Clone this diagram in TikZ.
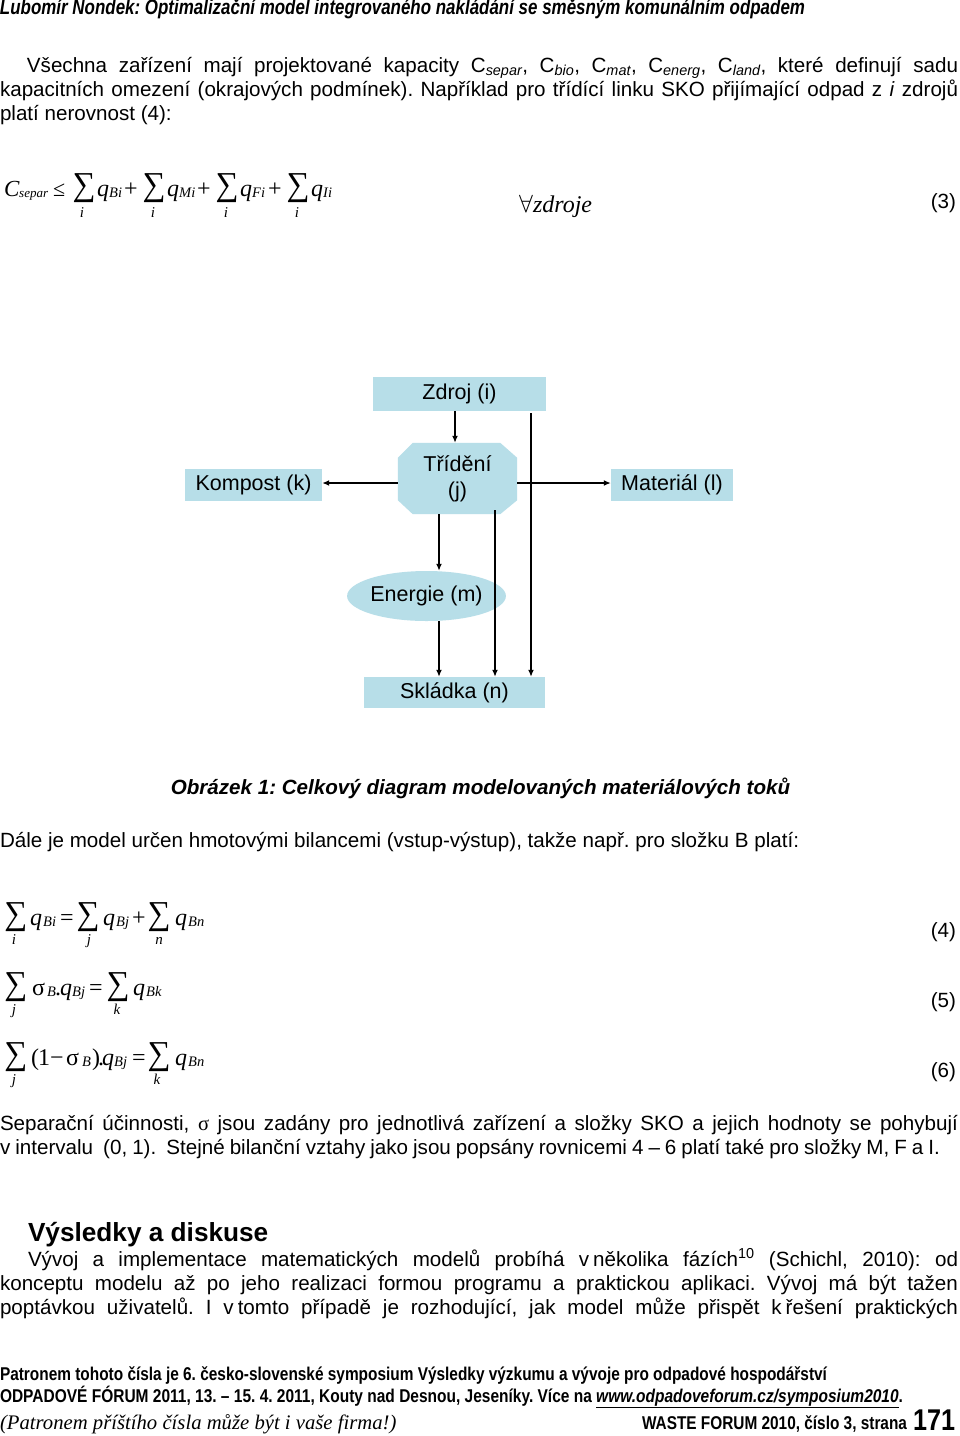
\documentclass[tikz,border=0pt]{standalone}
\usepackage{fontspec}
\usepackage{graphicx}
\setmainfont{Liberation Sans}
\newfontfamily\tnr{Liberation Serif}
\usetikzlibrary{shapes.geometric,arrows.meta,backgrounds}
\definecolor{boxfill}{RGB}{183,222,232}
\newcommand\fs[1]{\fontsize{#1pt}{#1pt}\selectfont}
\newcommand\capsub[1]{\textsubscript{\itshape #1}}
\newcommand\sumg{\resizebox*{23pt}{29pt}{\tnr ∑}}
\newcommand\fitw[2]{\resizebox{#1}{\height}{#2}}
\frenchspacing
\begin{document}
\begin{tikzpicture}[x=1pt,y=-1pt,
  txt/.style={anchor=base west, inner sep=0pt, outer sep=0pt, font=\fs{20.6}},
  lbl/.style={anchor=base east, inner sep=0pt, outer sep=0pt, font=\fs{20.6}},
  eqv/.style={anchor=base west, inner sep=0pt, font=\tnr\itshape\fs{24}},
  equ/.style={anchor=base west, inner sep=0pt, font=\tnr\fs{24}},
  esub/.style={anchor=base west, inner sep=0pt, font=\tnr\itshape\fs{14.5}},
  elow/.style={anchor=base, inner sep=0pt, font=\tnr\itshape\fs{15}},
  sumst/.style={inner sep=0pt, anchor=center},
  box/.style={fill=boxfill, inner sep=0pt, font=\fs{21.5}, text=black},
  arr/.style={-{Latex[length=7pt,width=6pt]}, line width=1.5pt}]
\begin{scope}[on background layer]
\fill[white] (0,0) rectangle (960,1436);
\end{scope}
\useasboundingbox (0,0) rectangle (960,1436);

% header
\node[txt] (hdr) at (0,14) {\fitw{805pt}{\bfseries\itshape\fs{21}Lubomír Nondek: Optimalizační model integrovaného nakládání se směsným komunálním odpadem}};

% paragraph 1
\node[txt] (p1a) at (27,72) {\makebox[931pt][s]{Všechna zařízení mají projektované kapacity C\capsub{separ}, C\capsub{bio}, C\capsub{mat}, C\capsub{energ}, C\capsub{land}, které definují sadu}};
\node[txt] (p1b) at (0,96) {\makebox[958pt][s]{kapacitních omezení (okrajových podmínek). Například pro třídící linku SKO přijímající odpad z \textit{i} zdrojů}};
\node[txt] (p1c) at (0,120) {platí nerovnost (4):};

% equation 3
\node[eqv, font=\tnr\itshape\fs{23}] (e3C) at (4,196) {C};
\node[esub, font=\tnr\itshape\fs{13}] (e3s) at (19,197) {separ};
\node[equ,font=\tnr\fs{22}] (e3le) at (53,196) {≤};
\node[sumst] (e3S1) at (84,188.5) {\sumg};
\node[eqv] (e3q1) at (97,196) {q};
\node[esub] (e3b1) at (109,197) {Bi};
\node[equ] (e3p1) at (124,196) {+};
\node[sumst] (e3S2) at (154,188.5) {\sumg};
\node[eqv] (e3q2) at (167,196) {q};
\node[esub] (e3b2) at (179,197) {Mi};
\node[equ] (e3p2) at (197,196) {+};
\node[sumst] (e3S3) at (227,188.5) {\sumg};
\node[eqv] (e3q3) at (240,196) {q};
\node[esub] (e3b3) at (252,197) {Fi};
\node[equ] (e3p3) at (268,196) {+};
\node[sumst] (e3S4) at (298,188.5) {\sumg};
\node[eqv] (e3q4) at (311,196) {q};
\node[esub] (e3b4) at (323,197) {Ii};
\node[elow] (e3i1) at (82,217) {i};
\node[elow] (e3i2) at (153,217) {i};
\node[elow] (e3i3) at (226,217) {i};
\node[elow] (e3i4) at (297,217) {i};
\node[eqv,font=\tnr\itshape\fs{24}] (e3z) at (519,212) {$\forall$zdroje};
\node[lbl] (e3n) at (956,208) {(3)};

% diagram
\node[box, minimum width=173pt, minimum height=34pt] (zdroj) at (459.5,394) {Zdroj (i)};
\node[box, minimum width=137pt, minimum height=32pt] (komp) at (253.5,485) {Kompost (k)};
\node[box, minimum width=122pt, minimum height=32pt] (mat) at (672,485) {Materiál (l)};
\node[inner sep=0pt, minimum width=119pt, minimum height=71pt, align=center, font=\fs{21.5}] (tri) at (457.5,478.5) {Třídění\\[4.5pt](j)};
\begin{scope}[on background layer]
\fill[boxfill] ([xshift=15pt]tri.north west) -- ([xshift=-17pt]tri.north east) -- ([yshift=-15pt]tri.north east) -- ([yshift=14pt]tri.south east) -- ([xshift=-17pt]tri.south east) -- ([xshift=15pt]tri.south west) -- ([yshift=14pt]tri.south west) -- ([yshift=-15pt]tri.north west) -- cycle;
\end{scope}
\node[ellipse, fill=boxfill, inner sep=0pt, minimum width=125pt, minimum height=50pt, font=\fs{21.5}] (en) at (426.5,596) {Energie (m)};
\node[box, minimum width=181pt, minimum height=31pt] (skl) at (454.5,692.5) {Skládka (n)};

\coordinate (xa) at (455,0);
\coordinate (xb) at (531,0);
\coordinate (xc) at (439,0);
\coordinate (xd) at (495,0);
\coordinate (yh) at (0,483);
\draw[arr] (zdroj.south -| xa) -- (tri.north -| xa);
\draw[arr] (tri.west |- yh) -- (komp.east |- yh);
\draw[arr] (tri.east |- yh) -- (mat.west |- yh);
\draw[arr] ([yshift=-2pt]zdroj.south -| xb) -- (skl.north -| xb);
\draw[arr] (tri.south -| xc) -- (en.north -| xc);
\draw[arr] (en.south -| xc) -- (skl.north -| xc);
\draw[arr] ([yshift=4pt]tri.south -| xd) -- (skl.north -| xd);

% caption
\node[anchor=base, inner sep=0pt, font=\bfseries\itshape\fs{20.6}] (cap) at (480.5,794) {Obrázek 1: Celkový diagram modelovaných materiálových toků};

\node[txt] (p2) at (0,847) {Dále je model určen hmotovými bilancemi (vstup-výstup), takže např. pro složku B platí:};

% equation 4
\node[sumst] (e4S1) at (16,917.5) {\sumg};
\node[eqv] (e4q1) at (30,925) {q};
\node[esub] (e4b1) at (43,926) {Bi};
\node[equ] (e4eq) at (60,925) {=};
\node[sumst] (e4S2) at (88,917.5) {\sumg};
\node[eqv] (e4q2) at (103,925) {q};
\node[esub] (e4b2) at (116,926) {Bj};
\node[equ] (e4p) at (132,925) {+};
\node[sumst] (e4S3) at (159,917.5) {\sumg};
\node[eqv] (e4q3) at (175,925) {q};
\node[esub] (e4b3) at (188,926) {Bn};
\node[elow] (e4i1) at (14,944) {i};
\node[elow] (e4i2) at (89,944) {j};
\node[elow] (e4i3) at (159,944) {n};
\node[lbl] (e4n) at (956,937) {(4)};

% equation 5
\node[sumst] (e5S1) at (16,987.5) {\sumg};
\node[equ] (e5s) at (32,995) {σ};
\node[esub] (e5b) at (47,996) {B};
\node[equ] (e5d) at (55,995) {.};
\node[eqv] (e5q1) at (60,995) {q};
\node[esub] (e5b1) at (72,996) {Bj};
\node[equ] (e5eq) at (89,995) {=};
\node[sumst] (e5S2) at (118,987.5) {\sumg};
\node[eqv] (e5q2) at (133,995) {q};
\node[esub] (e5b2) at (146,996) {Bk};
\node[elow] (e5i1) at (14,1014) {j};
\node[elow] (e5i2) at (117,1014) {k};
\node[lbl] (e5n) at (956,1007) {(5)};

% equation 6
\node[sumst] (e6S1) at (16,1057.5) {\sumg};
\node[equ] (e6o) at (31,1065) {(};
\node[equ] (e6one) at (38,1065) {1};
\node[equ] (e6m) at (50,1065) {−};
\node[equ] (e6s) at (66,1065) {σ};
\node[esub] (e6b) at (82,1066) {B};
\node[equ] (e6c) at (92,1065) {)};
\node[equ] (e6d) at (98,1065) {.};
\node[eqv] (e6q1) at (102,1065) {q};
\node[esub] (e6b1) at (114,1066) {Bj};
\node[equ] (e6eq) at (132,1065) {=};
\node[sumst] (e6S2) at (159,1057.5) {\sumg};
\node[eqv] (e6q2) at (175,1065) {q};
\node[esub] (e6b2) at (188,1066) {Bn};
\node[elow] (e6i1) at (14,1084) {j};
\node[elow] (e6i2) at (157,1084) {k};
\node[lbl] (e6n) at (956,1077) {(6)};

% paragraph 3
\node[txt] (p3a) at (0,1130) {\makebox[958pt][s]{Separační účinnosti, {\tnr σ} jsou zadány pro jednotlivá zařízení a složky SKO a jejich hodnoty se pohybují}};
\node[txt] (p3b) at (0,1154) {\makebox[940pt][s]{v intervalu\ \ (0, 1).\ \ Stejné bilanční vztahy jako jsou popsány rovnicemi 4 – 6 platí také pro složky M, F a I.}};

% heading
\node[txt, font=\bfseries\fs{26.2}] (hd) at (28,1241) {Výsledky a diskuse};
\node[txt] (p4a) at (28,1266) {\makebox[930pt][s]{Vývoj a implementace matematických modelů probíhá v\hspace{4pt}několika fázích\textsuperscript{10} (Schichl, 2010): od}};
\node[txt] (p4b) at (0,1290) {\makebox[958pt][s]{konceptu modelu až po jeho realizaci formou programu a praktickou aplikaci. Vývoj má být tažen}};
\node[txt] (p4c) at (0,1314) {\makebox[958pt][s]{poptávkou uživatelů. I v\hspace{4pt}tomto případě je rozhodující, jak model může přispět k\hspace{4pt}řešení praktických}};

% footer
\node[txt] (f1) at (0,1380) {\fitw{827pt}{\bfseries\fs{18.5}Patronem tohoto čísla je 6. česko-slovenské symposium Výsledky výzkumu a vývoje pro odpadové hospodářství}};
\node[txt] (f2) at (0,1402) {\fitw{903pt}{\bfseries\fs{18.5}ODPADOVÉ FÓRUM 2011, 13. – 15. 4. 2011, Kouty nad Desnou, Jeseníky. Více na \underline{\itshape www.odpadoveforum.cz/symposium2010}.}};
\node[txt, font=\tnr\itshape\fs{20.7}] (f3) at (0,1429) {(Patronem příštího čísla může být i vaše firma!)};
\node[txt] (f4) at (642,1429) {\fitw{265pt}{\bfseries\fs{18.5}WASTE FORUM 2010, číslo 3, strana}};
\node[txt] (f5) at (913,1430) {\fitw{42pt}{\bfseries\fs{30}171}};
\end{tikzpicture}
\end{document}
